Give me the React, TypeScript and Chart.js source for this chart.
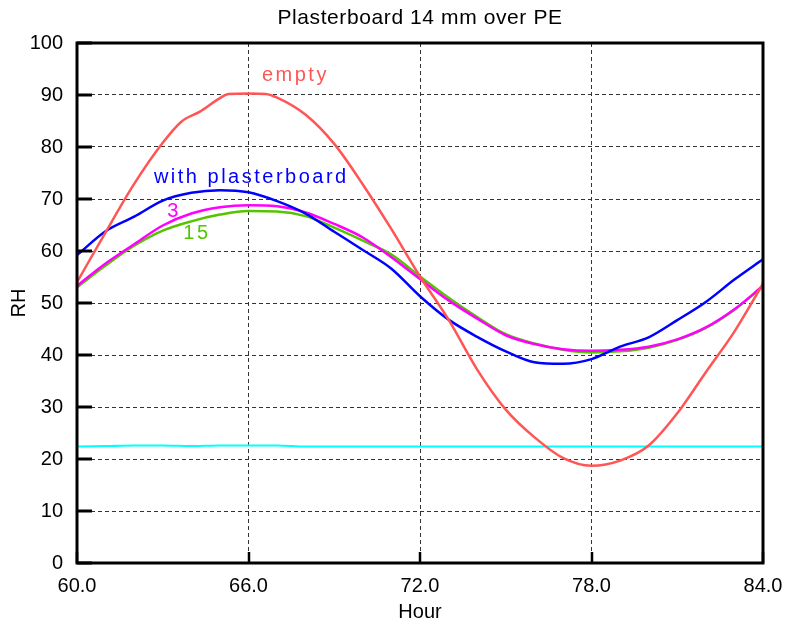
import React, { useEffect, useRef } from 'react';
import { Chart, registerables } from 'chart.js';

Chart.register(...registerables);

const FONT = '"Liberation Sans", Arial, Helvetica, sans-serif';

const chartTitle = 'Plasterboard 14 mm over PE';
const xTitle = 'Hour';
const yTitle = 'RH';

const hours = [60, 61, 62, 63, 64, 65, 66, 67, 68, 69, 70, 71, 72, 73, 74, 75, 76, 77, 78, 79, 80, 81, 82, 83, 84];

const emptyHours = [60, 61, 62, 63, 63.66, 64.3, 65, 65.3, 66, 66.6, 67, 68, 69, 70, 71, 72, 73, 74, 75, 76, 77, 78, 79, 80, 81, 82, 83, 84];
const emptyRH = [54, 63.6, 72.9, 80.8, 84.9, 86.8, 89.4, 90.2, 90.3, 90.2, 89.5, 86.2, 80.6, 72.8, 64.2, 55.1, 46.8, 37.2, 29.5, 24.2, 20.2, 18.7, 19.7, 22.6, 28.8, 36.7, 44.5, 53.7];

const plasterRH = [59.2, 63.8, 66.6, 69.7, 71.2, 71.7, 71.3, 69.6, 67.2, 63.7, 60.2, 56.6, 51.3, 46.8, 43.5, 40.7, 38.6, 38.3, 39.2, 41.6, 43.4, 46.7, 50.2, 54.5, 58.4];
const rh3 = [53.3, 57.6, 61.3, 64.9, 67.2, 68.4, 68.8, 68.6, 67.4, 65.2, 62.6, 58.8, 54.6, 50.5, 47.0, 43.8, 42.1, 41.1, 40.8, 41.0, 41.6, 43.0, 45.3, 48.8, 53.3];
const rh15 = [53.0, 57.2, 61.0, 63.9, 65.7, 67.0, 67.7, 67.6, 66.7, 64.5, 62.0, 59.3, 55.1, 51.0, 47.3, 44.0, 42.2, 41.0, 40.5, 40.7, 41.4, 42.9, 45.2, 48.7, 53.2];
const baseRH = [22.4, 22.5, 22.6, 22.6, 22.5, 22.6, 22.6, 22.6, 22.4, 22.4, 22.4, 22.4, 22.4, 22.4, 22.4, 22.4, 22.4, 22.4, 22.4, 22.4, 22.4, 22.4, 22.4, 22.4, 22.4];

const xTicks = [60, 66, 72, 78, 84];
const yTicks = [0, 10, 20, 30, 40, 50, 60, 70, 80, 90, 100];

const labels = [
  { text: 'empty', x: 66.47, y: 92.7, color: '#ff5555' },
  { text: 'with plasterboard', x: 62.69, y: 73.0, color: '#0000ff' },
  { text: '3', x: 63.16, y: 66.6, color: '#ff00ff' },
  { text: '15', x: 63.72, y: 62.25, color: '#55c400' },
];

const toPts = (xs: number[], ys: number[]) => xs.map((x, i) => ({ x, y: ys[i] }));

const decorPlugin = {
  id: 'decor',
  afterDraw(chart: any) {
    const { ctx, chartArea: a, scales } = chart;
    const x = scales.x;
    const y = scales.y;
    ctx.save();
    ctx.strokeStyle = '#000';
    ctx.setLineDash([]);
    ctx.lineWidth = 3;
    yTicks.forEach((v) => {
      const py = Math.round(y.getPixelForValue(v));
      ctx.beginPath();
      ctx.moveTo(a.left, py);
      ctx.lineTo(a.left + 15, py);
      ctx.stroke();
    });
    ctx.lineWidth = 2.5;
    xTicks.forEach((v) => {
      const px = Math.round(x.getPixelForValue(v));
      ctx.beginPath();
      ctx.moveTo(px, a.bottom);
      ctx.lineTo(px, a.bottom - 11);
      ctx.stroke();
    });
    ctx.lineWidth = 3;
    ctx.strokeRect(a.left, a.top, a.right - a.left, a.bottom - a.top);

    // titles
    ctx.fillStyle = '#000';
    ctx.font = `21px ${FONT}`;
    ctx.textAlign = 'center';
    ctx.textBaseline = 'alphabetic';
    (ctx as any).letterSpacing = '0.6px';
    ctx.fillText(chartTitle, (a.left + a.right) / 2, 24);
    (ctx as any).letterSpacing = '0px';
    ctx.font = `20px ${FONT}`;
    ctx.fillText(xTitle, (a.left + a.right) / 2, 618);
    ctx.save();
    ctx.translate(25, (a.top + a.bottom) / 2);
    ctx.rotate(-Math.PI / 2);
    ctx.fillText(yTitle, 0, 0);
    ctx.restore();

    // annotations
    ctx.textAlign = 'left';
    (ctx as any).letterSpacing = '2.5px';
    labels.forEach((l) => {
      ctx.fillStyle = l.color;
      ctx.fillText(l.text, x.getPixelForValue(l.x), y.getPixelForValue(l.y));
    });
    (ctx as any).letterSpacing = '0px';
    ctx.restore();
  },
};

export default function App() {
  const ref = useRef<HTMLCanvasElement | null>(null);
  useEffect(() => {
    if (!ref.current) return;
    const chart = new Chart(ref.current, {
      type: 'line',
      data: {
        datasets: [
          { label: 'empty', data: toPts(emptyHours, emptyRH), borderColor: '#ff5555', borderWidth: 2.5 },
          { label: 'with plasterboard', data: toPts(hours, plasterRH), borderColor: '#0000ff', borderWidth: 2.5 },
          { label: '3', data: toPts(hours, rh3), borderColor: '#ff00ff', borderWidth: 2.5 },
          { label: '15', data: toPts(hours, rh15), borderColor: '#55c400', borderWidth: 2.5 },
          { label: 'base', data: toPts(hours, baseRH), borderColor: '#00ffff', borderWidth: 2.2 },
        ],
      },
      options: {
        responsive: false,
        animation: false,
        devicePixelRatio: 1,
        layout: { padding: { top: 43, right: 22, left: 0, bottom: 0 } },
        elements: {
          point: { radius: 0 },
          line: { cubicInterpolationMode: 'monotone', fill: false },
        },
        plugins: {
          legend: { display: false },
          title: { display: false },
          tooltip: { enabled: false },
        },
        scales: {
          x: {
            type: 'linear',
            min: 60,
            max: 84,
            afterBuildTicks: (s: any) => { s.ticks = xTicks.map((v) => ({ value: v })); },
            afterFit: (s: any) => {
              s.height = 59;
              s.paddingLeft = 0;
              s.paddingRight = 0;
            },
            ticks: {
              color: '#000',
              font: { family: FONT, size: 20 },
              padding: 11,
              maxRotation: 0,
              callback: (v: any) => Number(v).toFixed(1),
            },
            grid: { color: '#333', lineWidth: 1, drawTicks: false },
            border: { display: false, dash: [4, 3] },
          },
          y: {
            type: 'linear',
            min: 0,
            max: 100,
            afterBuildTicks: (s: any) => { s.ticks = yTicks.map((v) => ({ value: v })); },
            afterFit: (s: any) => {
              s.width = 77;
              s.paddingTop = 0;
              s.paddingBottom = 0;
            },
            ticks: {
              color: '#000',
              font: { family: FONT, size: 20 },
              padding: 14,
            },
            grid: { color: '#333', lineWidth: 1, drawTicks: false },
            border: { display: false, dash: [4, 3] },
          },
        },
      },
      plugins: [decorPlugin],
    });
    return () => chart.destroy();
  }, []);
  return (
    <div style={{ position: 'absolute', left: 0, top: 0, width: 785, height: 622, background: '#fff' }}>
      <canvas ref={ref} width={785} height={622} />
    </div>
  );
}
